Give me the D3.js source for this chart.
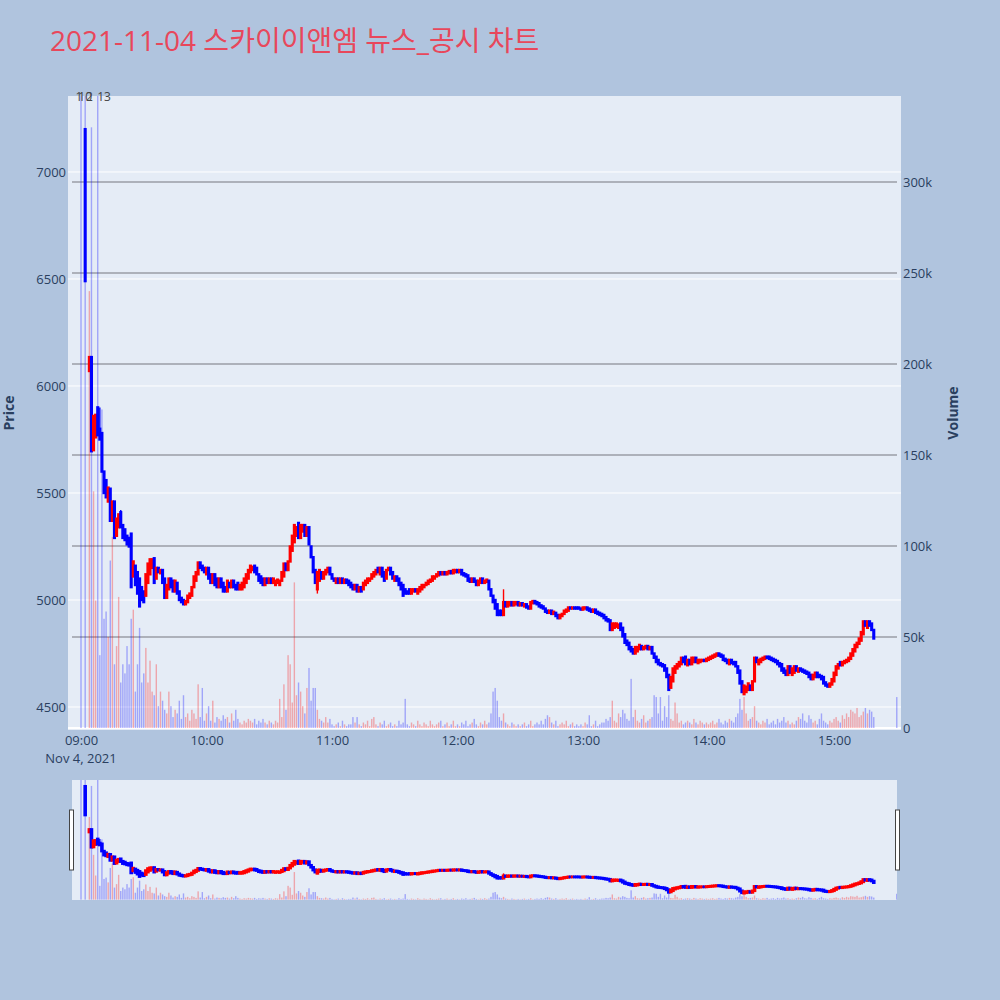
<!DOCTYPE html>
<html><head><meta charset="utf-8">
<script src="https://cdn.jsdelivr.net/npm/d3@7"></script>
<style>body{margin:0;background:#b0c4de}svg{display:block}</style>
</head><body><svg id="c" width="1000" height="1000"></svg>
<script>
const chartTitle = "2021-11-04 스카이이앤엠 뉴스_공시 차트";
const dateLabel = "Nov 4, 2021";
// one entry per minute from 09:00 (null = no trade)
const opens = [null,null,7200,null,6070,6135,5700,5760,5900,5800,
5780,5600,5560,5460,5520,5370,5460,5300,5340,5410,
5350,5330,5300,5290,5310,5110,5160,5130,5100,5060,
5040,5020,5080,5120,5150,5195,5100,5150,5125,5140,
5100,5010,5050,5100,5090,5040,5080,5040,5010,5000,
4980,4990,5010,5020,5060,5090,5120,5175,5160,5150,
5120,5150,5120,5080,5120,5100,5060,5100,5080,5060,
5040,5080,5060,5090,5070,5080,5050,5050,5060,5080,
5100,5130,5140,5160,5150,5120,5110,5100,5070,5100,
5080,5100,5080,5070,5080,5070,5090,5110,5170,5140,
5180,5230,5270,5300,5360,5290,5320,5350,5300,5340,
5250,5200,5140,5050,5090,5130,5100,5120,5130,5150,
5120,5100,5080,5100,5080,5100,5080,5095,5090,5080,
5070,5050,5070,5040,5060,5050,5070,5080,5090,5100,
5110,5120,5150,5120,5150,5130,5100,5140,5150,5130,
5090,5110,5100,5080,5070,5050,5040,5050,5030,5040,
5050,5030,5040,5050,5060,5070,5075,5085,5090,5100,
5110,5115,5130,5120,5130,5120,5125,5135,5125,5130,
5140,5130,5140,5125,5120,5115,5100,5085,5100,5090,
5070,5080,5100,5080,5085,5090,5050,5020,5000,4980,
4950,4950,4930,4990,4970,4975,4990,4975,4980,4990,
4975,4985,4970,4980,4970,4960,4985,4995,4990,4985,
4975,4970,4960,4950,4940,4950,4935,4940,4930,4915,
4925,4935,4945,4950,4965,4960,4965,4965,4965,4960,
4955,4960,4965,4960,4955,4945,4955,4945,4940,4935,
4930,4920,4910,4905,4860,4870,4875,4870,4890,4870,
4840,4810,4800,4780,4770,4750,4760,4770,4785,4770,
4775,4785,4770,4780,4750,4735,4720,4705,4700,4695,
4680,4650,4590,4620,4660,4680,4690,4700,4730,4735,
4695,4720,4700,4710,4730,4705,4710,4715,4720,4715,
4720,4725,4730,4735,4740,4750,4745,4740,4725,4720,
4700,4720,4710,4710,4690,4670,4620,4560,4570,4580,
4600,4580,4620,4730,4700,4710,4720,4725,4735,4735,
4730,4725,4720,4715,4705,4700,4680,4670,4650,4690,
4650,4660,4690,4665,4680,4675,4670,4665,4660,4650,
4630,4640,4660,4650,4645,4640,4615,4605,4595,4605,
4620,4650,4680,4710,4695,4705,4710,4715,4725,4740,
4760,4780,4795,4810,4840,4900,4870,4900,4890,4860];
const closes = [null,null,6490,null,6135,5695,5860,5865,5770,5750,
5600,5500,5480,5525,5370,5460,5290,5380,5400,5340,
5290,5280,5260,5250,5060,5180,5070,5030,4970,5000,
4990,5120,5170,5190,5190,5080,5150,5130,5140,5080,
5010,5070,5100,5060,5040,5090,5030,5000,4990,4980,
4995,5020,5030,5060,5110,5130,5175,5150,5140,5130,
5150,5100,5080,5120,5070,5060,5100,5060,5040,5040,
5090,5060,5090,5060,5050,5050,5070,5080,5100,5120,
5140,5160,5155,5130,5120,5090,5080,5070,5100,5080,
5100,5080,5100,5090,5095,5090,5130,5170,5140,5180,
5250,5300,5350,5340,5290,5350,5350,5300,5340,5260,
5200,5130,5080,5130,5140,5100,5130,5140,5150,5120,
5100,5090,5100,5080,5100,5080,5095,5080,5070,5060,
5050,5070,5040,5060,5040,5080,5090,5100,5100,5120,
5130,5140,5130,5150,5110,5090,5140,5150,5120,5100,
5110,5090,5070,5050,5020,5030,5030,5030,5050,5050,
5040,5050,5060,5070,5070,5080,5090,5095,5110,5110,
5120,5130,5120,5130,5120,5130,5135,5125,5140,5140,
5130,5140,5120,5115,5110,5090,5085,5100,5085,5070,
5090,5100,5080,5090,5095,5050,5020,4990,4960,4930,
4930,4930,4990,4970,4990,4990,4975,4990,4990,4975,
4985,4975,4980,4965,4960,4990,4995,4985,4980,4970,
4965,4960,4945,4940,4950,4935,4945,4925,4915,4930,
4935,4950,4955,4965,4960,4965,4960,4960,4960,4955,
4965,4965,4955,4950,4945,4955,4940,4935,4930,4925,
4915,4905,4900,4860,4890,4890,4890,4885,4860,4830,
4800,4790,4770,4760,4750,4780,4780,4790,4770,4780,
4785,4770,4780,4750,4730,4710,4700,4695,4690,4670,
4640,4580,4640,4680,4690,4700,4710,4730,4710,4700,
4720,4700,4730,4730,4710,4720,4720,4720,4715,4725,
4730,4735,4740,4745,4750,4740,4735,4720,4715,4705,
4720,4705,4700,4690,4660,4610,4570,4600,4595,4610,
4580,4620,4730,4710,4720,4725,4730,4735,4730,4725,
4720,4715,4710,4700,4690,4670,4660,4650,4690,4660,
4680,4690,4670,4680,4670,4665,4660,4655,4640,4630,
4650,4660,4640,4640,4630,4610,4600,4595,4610,4630,
4660,4690,4700,4695,4710,4715,4720,4730,4750,4770,
4790,4800,4820,4850,4900,4880,4900,4880,4860,4820];
// volume in thousands of shares, per minute
const volumesK = [420,0,420,0,240,330,130,70,420,40,
175,60,64,50,92,105,35,45,72,25,
35,30,45,35,60,65,20,35,55,25,
30,44,25,37,20,18,35,12,20,15,
10,8,20,12,6,10,8,15,5,18,
6,8,4,10,8,5,24,6,22,4,
8,12,4,15,3,6,5,4,7,5,
6,3,8,4,10,5,3,2,4,3,
5,4,3,5,2,4,3,5,3,2,
4,3,2,4,3,16,6,24,10,40,
35,14,80,18,25,20,12,8,22,33,
15,22,22,10,5,4,3,6,3,5,
2,1,2,3,1,4,2,1,2,2,
6,3,6,2,1,3,2,4,1,5,
6,2,1,3,2,4,1,2,3,1,
2,1,4,2,3,16,2,1,3,2,
1,4,2,1,3,2,1,4,2,1,
2,3,4,1,2,3,1,2,4,1,
2,1,3,2,4,1,2,3,5,2,
1,3,2,4,2,3,8,20,22,15,
6,4,8,3,2,1,3,2,1,2,
1,2,3,1,2,4,1,2,3,2,
4,2,5,7,6,3,2,4,1,2,
3,2,4,1,2,3,1,2,1,2,
1,3,2,7,1,2,4,1,2,3,
3,5,4,6,15,4,3,8,6,10,
8,5,4,27,6,10,4,3,5,7,
3,4,5,6,18,17,8,17,4,12,
6,18,5,4,14,8,3,4,2,3,
4,3,2,5,3,2,4,3,2,3,
2,3,4,2,3,5,3,2,4,3,
5,4,3,6,8,16,10,17,8,4,
5,6,12,4,3,2,4,3,5,2,
3,4,2,5,3,4,6,3,4,2,
3,2,4,6,5,8,4,3,7,5,
3,4,2,5,8,4,3,2,4,3,
5,6,4,3,7,5,8,6,10,9,
8,11,6,7,9,11,8,10,9,6];
// notable wicks: [minute index, high, low]
const wicks = [[9,5900,5750],[113,5130,5030],[202,5050,4930],[19,5420,5340]];
// closing single-price auction
const closeAuction = {hm:"15:30", open:4790, close:4790, volK:17};
const priceTicks = [4500,5000,5500,6000,6500,7000];
const volumeTicks = [0,50000,100000,150000,200000,250000,300000];
const volumeTickLabels = ["0","50k","100k","150k","200k","250k","300k"];
const newsTimes = ["08:59","09:02","09:04","09:11"];
const newsLabels = ["1","10","2","13"];

const FONT = "'Open Sans','Noto Sans CJK KR',sans-serif";
const TXT = "#2a3f5f";
const UP = "#ff0000", DOWN = "#0000ff";
const day = new Date(2021,10,4,9,0,0);
const MIN = 60000;
const hm = s => { const [h,m] = s.split(":").map(Number); return new Date(2021,10,4,h,m,0); };

const rows = opens.map((o,i)=>({time:new Date(+day+i*MIN), open:o, close:closes[i], vol:volumesK[i]*1000}));
rows.push({time:hm(closeAuction.hm), open:closeAuction.open, close:closeAuction.close, vol:closeAuction.volK*1000});
const wickMap = new Map(wicks.map(w=>[w[0],w]));
rows.forEach((r,i)=>{ const w = wickMap.get(i); r.high = w? w[1] : Math.max(r.open,r.close); r.low = w? w[2] : Math.min(r.open,r.close); });

const svg = d3.select("#c");
svg.append("rect").attr("width",1000).attr("height",1000).attr("fill","#b0c4de");

const P = {l:68, r:901, t:96, b:730};
const x = d3.scaleTime().domain([new Date(+day-6.215*MIN), new Date(+day+392.02*MIN)]).range([P.l,P.r]);
const yP = d3.scaleLinear().domain([4392.5,7355]).range([P.b,P.t]);
const yV = d3.scaleLinear().domain([-1100,347200]).range([P.b,P.t]);

svg.append("text").attr("x",50).attr("y",51).attr("font-family",FONT).attr("font-size",28)
  .attr("fill","#e8475b").text(chartTitle);

svg.append("rect").attr("x",P.l).attr("y",P.t).attr("width",P.r-P.l).attr("height",P.b-P.t).attr("fill","#e5ecf6");
const defs = svg.append("defs");
defs.append("clipPath").attr("id","mainclip").append("rect").attr("x",P.l).attr("y",P.t).attr("width",P.r-P.l).attr("height",P.b-P.t);

// price grid (white)
svg.append("g").selectAll("line").data(priceTicks).join("line")
  .attr("x1",P.l).attr("x2",P.r).attr("y1",d=>yP(d)).attr("y2",d=>yP(d)).attr("stroke","#fff").attr("stroke-width",1);
svg.append("line").attr("x1",P.l).attr("x2",P.r).attr("y1",yV(0)).attr("y2",yV(0)).attr("stroke","#fff").attr("stroke-width",2);
// volume grid (grey)
svg.append("g").selectAll("line").data(volumeTicks.slice(1)).join("line")
  .attr("x1",72).attr("x2",897).attr("y1",d=>yV(d)).attr("y2",d=>yV(d)).attr("stroke","#9a9ea6").attr("stroke-width",1.5);

function drawSeries(g, xs, yp, yv, bw, sw){
  g.append("g").selectAll("rect").data(rows.filter(r=>r.vol>0)).join("rect")
    .attr("x",d=>xs(d.time)-0.7).attr("width",1.4)
    .attr("y",d=>yv(d.vol)).attr("height",d=>Math.max(0,yv(0)-yv(d.vol)))
    .attr("fill",d=>(d.open!=null && d.close>d.open)?UP:DOWN).attr("fill-opacity",0.3);
  const c = rows.filter(r=>r.open!=null);
  g.append("g").selectAll("line").data(c).join("line")
    .attr("x1",d=>xs(d.time)).attr("x2",d=>xs(d.time))
    .attr("y1",d=>yp(d.high)).attr("y2",d=>yp(d.low))
    .attr("stroke",d=>d.close>d.open?UP:DOWN).attr("stroke-width",1.4);
  g.append("g").selectAll("rect").data(c).join("rect")
    .attr("x",d=>xs(d.time)-bw/2).attr("width",bw)
    .attr("y",d=>yp(Math.max(d.open,d.close))).attr("height",d=>Math.abs(yp(d.open)-yp(d.close)))
    .attr("fill",d=>d.close>d.open?UP:DOWN)
    .attr("stroke",d=>d.close>d.open?UP:DOWN).attr("stroke-width",sw);
}
drawSeries(svg.append("g").attr("clip-path","url(#mainclip)"), x, yP, yV, 0.7, 2.4);

// axes
const fmt = d3.timeFormat("%H:%M");
const ax = svg.append("g").attr("transform",`translate(0,${P.b})`)
  .call(d3.axisBottom(x).ticks(d3.timeHour.every(1)).tickFormat(fmt).tickSize(0).tickPadding(6));
ax.select(".domain").remove();
ax.selectAll("text").attr("font-family",FONT).attr("font-size",13).attr("fill",TXT);
svg.append("text").attr("x",x(day)).attr("y",763).attr("text-anchor","middle")
  .attr("font-family",FONT).attr("font-size",13).attr("fill",TXT).text(dateLabel);

const ay = svg.append("g").attr("transform",`translate(${P.l},0)`)
  .call(d3.axisLeft(yP).tickValues(priceTicks).tickFormat(d3.format("d")).tickSize(0).tickPadding(2));
ay.select(".domain").remove();
ay.selectAll("text").attr("font-family",FONT).attr("font-size",13).attr("fill",TXT);

const ay2 = svg.append("g").attr("transform",`translate(${P.r},0)`)
  .call(d3.axisRight(yV).tickValues(volumeTicks).tickFormat((d,i)=>volumeTickLabels[i]).tickSize(0).tickPadding(2));
ay2.select(".domain").remove();
ay2.selectAll("text").attr("font-family",FONT).attr("font-size",13).attr("fill",TXT);

svg.append("text").attr("transform","translate(14,413) rotate(-90)").attr("text-anchor","middle")
  .attr("font-family",FONT).attr("font-size",14).attr("font-weight","bold").attr("fill",TXT).text("Price");
svg.append("text").attr("transform","translate(958,413) rotate(-90)").attr("text-anchor","middle")
  .attr("font-family",FONT).attr("font-size",14).attr("font-weight","bold").attr("fill",TXT).text("Volume");

// news annotations
svg.append("g").selectAll("text").data(newsTimes).join("text")
  .attr("x",d=>x(hm(d))).attr("y",101).attr("text-anchor","middle")
  .attr("font-family",FONT).attr("font-size",12).attr("fill","#444").text((d,i)=>newsLabels[i]);

// range slider
const S = {l:72, r:897, t:780, b:900};
svg.append("rect").attr("x",S.l).attr("y",S.t).attr("width",S.r-S.l).attr("height",S.b-S.t).attr("fill","#e5ecf6");
defs.append("clipPath").attr("id","sclip").append("rect").attr("x",S.l).attr("y",S.t).attr("width",S.r-S.l).attr("height",S.b-S.t);
const ySP = d3.scaleLinear().domain(yP.domain()).range([S.b,S.t]);
const ySV = d3.scaleLinear().domain(yV.domain()).range([S.b,S.t]);
drawSeries(svg.append("g").attr("clip-path","url(#sclip)"), x, ySP, ySV, 1.0, 2.6);
[S.l-2.5, S.r-1.5].forEach(hx=>{
  svg.append("rect").attr("x",hx).attr("y",810).attr("width",4).attr("height",60)
    .attr("fill","#fff").attr("stroke","#444").attr("stroke-width",1);
});
</script></body></html>
